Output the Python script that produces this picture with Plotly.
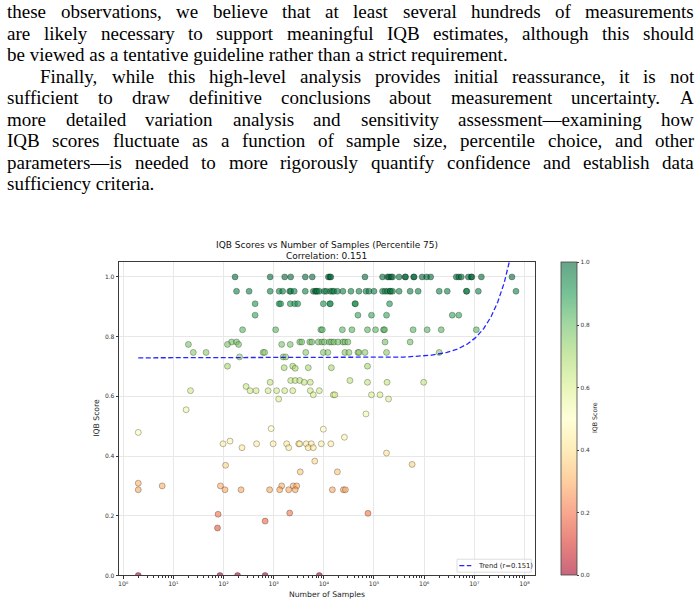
import numpy as np
import plotly.graph_objects as go

# ------------------------------------------------------------------ data
# number of samples (x, log scale) and IQB score (y, also colour)
num_samples = [
    # score 1.000
    170, 851, 1660, 2188, 4266, 5888, 12300, 13180, 13800, 66070,
    147900, 186200, 199500, 218800, 234400, 316200, 416900, 426600, 616600, 631000,
    912000, 1122000, 1349000, 4365000, 4898000, 5495000, 7586000, 8710000, 8913000, 13800000,
    56230000,
    # score 0.952
    182, 324, 851, 1288, 1514, 2089, 2188, 2570, 4266, 6166,
    6761, 7079, 7413, 8128, 10230, 11220, 13490, 14790, 15850, 18620,
    23990, 34670, 50120, 69180, 79430, 100000, 147900, 166000, 186200, 208900,
    213800, 234400, 316200, 524800, 758600, 1995000, 2884000, 6918000, 7079000, 12020000,
    67610000,
    # score 0.910
    427, 1288, 1380, 2138, 2630, 3020, 9772, 13180, 13490, 41690, 42660, 204200,
    # score 0.872
    427, 47860, 89130, 177800, 3631000, 4898000,
    # score 0.823
    240, 1096, 8710, 9333, 23440, 36310, 74130, 107200, 154900, 162200, 602600, 1148000, 2188000, 10960000,
    # score 0.782
    145, 182, 3311, 3631, 5248, 5754, 7762, 9120, 10230, 12880, 14130, 15850, 19050, 23990, 26300, 30200, 166000, 524800,
    # score 0.774
    20, 120, 200, 1445, 2138,
    # score 0.747
    25, 45, 617, 661, 4365, 9772, 12020, 26300, 31620, 47860, 50120, 66070, 177800, 1995000,
    # score 0.732
    209, 1549, 1738,
    # scores 0.70 .. 0.63
    120, 2399, 74130, 1622, 2692, 4898, 14130,
    2188, 2692, 3311, 33110,
    851, 4074, 5370, 74130, 182000, 977200,
    282,
    # score 0.619
    22, 339, 447, 776, 1148, 1660, 2399, 5370, 8128,
    # score 0.605
    6166, 15490, 16600, 89130, 131800,
    # scores 0.591 .. 0.450
    1259, 195000, 18, 69180, 891, 9772, 2, 25700, 135,
    # score 0.441
    98, 457, 977, 1820, 3162, 3311, 4467, 5623, 8913, 13800,
    # score 0.428
    234, 1995, 4898, 6166,
    # scores 0.410 .. 0.309
    177800, 6607, 575400, 110, 3388, 18620, 2,
    # score 0.300
    6, 87, 1445, 2455, 2884,
    # score 0.287
    2, 107, 224, 832, 1318, 1995, 2692, 14790, 24550, 26920,
    # scores 0.209 .. 0.159
    2089, 75860, 78, 676, 76,
    # score 0.000
    2, 85, 191, 676, 8128,
]

iqb_scores = [
    # score 1.000 (31)
    1.0, 1.0, 1.0, 1.0, 1.0, 1.0, 1.0, 1.0, 1.0, 1.0,
    1.0, 1.0, 1.0, 1.0, 1.0, 1.0, 1.0, 1.0, 1.0, 1.0,
    1.0, 1.0, 1.0, 1.0, 1.0, 1.0, 1.0, 1.0, 1.0, 1.0,
    1.0,
    # score 0.952 (41)
    0.952, 0.952, 0.952, 0.952, 0.952, 0.952, 0.952, 0.952, 0.952, 0.952,
    0.952, 0.952, 0.952, 0.952, 0.952, 0.952, 0.952, 0.952, 0.952, 0.952,
    0.952, 0.952, 0.952, 0.952, 0.952, 0.952, 0.952, 0.952, 0.952, 0.952,
    0.952, 0.952, 0.952, 0.952, 0.952, 0.952, 0.952, 0.952, 0.952, 0.952,
    0.952,
    # score 0.910 (12)
    0.910, 0.910, 0.910, 0.910, 0.910, 0.910, 0.910, 0.910, 0.910, 0.910, 0.910, 0.910,
    # score 0.872 (6)
    0.872, 0.872, 0.872, 0.872, 0.872, 0.872,
    # score 0.823 (14)
    0.823, 0.823, 0.823, 0.823, 0.823, 0.823, 0.823, 0.823, 0.823, 0.823, 0.823, 0.823, 0.823, 0.823,
    # score 0.782 (18)
    0.782, 0.782, 0.782, 0.782, 0.782, 0.782, 0.782, 0.782, 0.782, 0.782, 0.782, 0.782, 0.782, 0.782, 0.782, 0.782, 0.782, 0.782,
    # score 0.774 (5)
    0.774, 0.774, 0.774, 0.774, 0.774,
    # score 0.747 (14)
    0.747, 0.747, 0.747, 0.747, 0.747, 0.747, 0.747, 0.747, 0.747, 0.747, 0.747, 0.747, 0.747, 0.747,
    # score 0.732 (3)
    0.732, 0.732, 0.732,
    # scores 0.70 .. 0.63
    0.701, 0.701, 0.701, 0.696, 0.694, 0.696, 0.696,
    0.653, 0.653, 0.653, 0.653,
    0.647, 0.647, 0.647, 0.647, 0.647, 0.647,
    0.633,
    # score 0.619 (9)
    0.619, 0.619, 0.619, 0.619, 0.619, 0.619, 0.619, 0.619, 0.619,
    # score 0.605 (5)
    0.605, 0.605, 0.605, 0.605, 0.605,
    # scores 0.591 .. 0.450
    0.591, 0.591, 0.555, 0.541, 0.492, 0.490, 0.479, 0.463, 0.450,
    # score 0.441 (10)
    0.441, 0.441, 0.441, 0.441, 0.441, 0.441, 0.441, 0.441, 0.441, 0.441,
    # score 0.428 (4)
    0.428, 0.428, 0.428, 0.428,
    # scores 0.410 .. 0.309
    0.410, 0.383, 0.372, 0.369, 0.347, 0.347, 0.309,
    # score 0.300 (5)
    0.300, 0.300, 0.300, 0.300, 0.300,
    # score 0.287 (10)
    0.287, 0.287, 0.287, 0.287, 0.287, 0.287, 0.287, 0.287, 0.287, 0.287,
    # scores 0.209 .. 0.159
    0.209, 0.208, 0.205, 0.182, 0.159,
    # score 0.000 (5)
    0.0, 0.0, 0.0, 0.0, 0.0,
]
assert len(num_samples) == len(iqb_scores)

correlation = 0.151
trend_intercept = 0.729
trend_slope = 6.4e-9

x_tick_values = [1, 10, 100, 1000, 10000, 100000, 1000000, 10000000, 100000000]
x_tick_labels = ["10\u2070", "10\u00b9", "10\u00b2", "10\u00b3", "10\u2074",
                 "10\u2075", "10\u2076", "10\u2077", "10\u2078"]
y_tick_values = [0.0, 0.2, 0.4, 0.6, 0.8, 1.0]
cbar_tick_values = [0.0, 0.2, 0.4, 0.6, 0.8, 1.0]

title_line1 = "IQB Scores vs Number of Samples (Percentile 75)"
title_line2 = "Correlation: 0.151"
x_label = "Number of Samples"
y_label = "IQB Score"
cbar_label = "IQB Score"
legend_label = "Trend (r=0.151)"

body_lines = [
    "these observations, we believe that at least several hundreds of measurements",
    "are likely necessary to support meaningful IQB estimates, although this should",
    "be viewed as a tentative guideline rather than a strict requirement.",
    "Finally, while this high-level analysis provides initial reassurance, it is not",
    "sufficient to draw definitive conclusions about measurement uncertainty. A",
    "more detailed variation analysis and sensitivity assessment\u2014examining how",
    "IQB scores fluctuate as a function of sample size, percentile choice, and other",
    "parameters\u2014is needed to more rigorously quantify confidence and establish data",
    "sufficiency criteria.",
]
body_justified = [True, True, False, True, True, True, True, True, False]
body_indent = [False, False, False, True, False, False, False, False, False]

# ------------------------------------------------------------------ styling
W, H = 699, 608
PX_L, PX_R, PX_T, PX_B = 118.3, 534.3, 263.3, 578.3


def px(x):
    return x / W


def py(y):
    return 1 - y / H


# matplotlib RdYlGn with alpha 0.6 over white
rdylgn = ["#a50026", "#d73027", "#f46d43", "#fdae61", "#fee08b", "#ffffbf",
          "#d9ef8b", "#a6d96a", "#66bd63", "#1a9850", "#006837"]


def rgba(h, a):
    h = h.lstrip("#")
    return "rgba(%d,%d,%d,%.2f)" % (int(h[0:2], 16), int(h[2:4], 16), int(h[4:6], 16), a)


colorscale = [[i / 10, rgba(c, 0.6)] for i, c in enumerate(rdylgn)]

fig = go.Figure()

fig.add_trace(go.Scatter(
    x=num_samples, y=iqb_scores, mode="markers", showlegend=False, hoverinfo="skip",
    marker=dict(
        size=6, color=iqb_scores, cmin=0, cmax=1, colorscale=colorscale,
        line=dict(color="rgba(0,0,0,0.45)", width=0.6),
        showscale=True,
        colorbar=dict(
            x=px(561), xanchor="left", xpad=0, ypad=0,
            y=py(PX_B), yanchor="bottom", len=(PX_B - PX_T) / H, lenmode="fraction",
            thickness=16, thicknessmode="pixels",
            outlinewidth=0.8, outlinecolor="#444",
            ticks="outside", ticklen=2.5, tickwidth=0.6, tickcolor="#444",
            tickvals=cbar_tick_values, tickformat=".1f",
            tickfont=dict(size=5.8, color="#333", family="DejaVu Sans"),
        ),
    ),
))

tx = np.logspace(np.log10(min(num_samples)), np.log10(max(num_samples)), 400)
ty = trend_intercept + trend_slope * tx
fig.add_trace(go.Scatter(
    x=tx, y=ty, mode="lines", showlegend=False, hoverinfo="skip",
    line=dict(color="rgba(0,0,255,0.85)", width=1.3, dash="5px,2.5px"),
))

minor_vals = [m * d for d in x_tick_values[:-1] for m in range(2, 10)]

fig.update_layout(
    width=W, height=H, margin=dict(l=0, r=0, t=0, b=0),
    paper_bgcolor="white", plot_bgcolor="white",
    font=dict(family="DejaVu Sans", color="#222"),
    xaxis=dict(
        type="log", domain=[px(PX_L), px(PX_R)], range=[-0.08, 8.2],
        tickvals=x_tick_values, ticktext=x_tick_labels,
        ticks="outside", ticklen=2.6, tickwidth=0.6, tickcolor="#333",
        tickfont=dict(size=6.2, color="#333"),
        showline=True, mirror=True, linecolor="#3a3a3a", linewidth=0.8,
        showgrid=True, gridcolor="#e8e8e8", gridwidth=0.6, zeroline=False,
        minor=dict(tickvals=minor_vals, ticks="outside", ticklen=1.5, tickwidth=0.5,
                   tickcolor="#333", showgrid=False),
    ),
    yaxis=dict(
        domain=[py(PX_B), py(PX_T)], range=[0, 1.05],
        tickvals=y_tick_values, tickformat=".1f",
        ticks="outside", ticklen=2.6, tickwidth=0.6, tickcolor="#333",
        tickfont=dict(size=6.0, color="#333"),
        showline=True, mirror=True, linecolor="#3a3a3a", linewidth=0.8,
        showgrid=True, gridcolor="#e8e8e8", gridwidth=0.6, zeroline=False,
    ),
)

ann = []
# chart title
ann.append(dict(text=title_line1, x=px(326), y=py(246), xref="paper", yref="paper",
                showarrow=False, xanchor="center", yanchor="middle",
                font=dict(size=9, color="#111")))
ann.append(dict(text=title_line2, x=px(326), y=py(257), xref="paper", yref="paper",
                showarrow=False, xanchor="center", yanchor="middle",
                font=dict(size=9, color="#111")))
# axis labels
ann.append(dict(text=x_label, x=px(326), y=py(597), xref="paper", yref="paper",
                showarrow=False, xanchor="center", yanchor="middle",
                font=dict(size=7.7, color="#222")))
ann.append(dict(text=y_label, x=px(96), y=py(420), xref="paper", yref="paper",
                showarrow=False, xanchor="center", yanchor="middle", textangle=-90,
                font=dict(size=7.7, color="#222")))
ann.append(dict(text=cbar_label, x=px(595), y=py(420), xref="paper", yref="paper",
                showarrow=False, xanchor="center", yanchor="middle", textangle=-90,
                font=dict(size=6.3, color="#222")))
# legend text
ann.append(dict(text=legend_label, x=px(476), y=py(568.5), xref="paper", yref="paper",
                showarrow=False, xanchor="left", yanchor="middle",
                font=dict(size=6.8, color="#222")))

# body text (justified, Times metrics -> Liberation Serif)
TW = {" ": 250, ",": 250, ".": 250, "-": 333, "\u2014": 1000,
      "A": 722, "B": 667, "F": 556, "I": 333, "Q": 722,
      "a": 444, "b": 500, "c": 444, "d": 500, "e": 444, "f": 333, "g": 500, "h": 500,
      "i": 278, "j": 278, "k": 500, "l": 278, "m": 778, "n": 500, "o": 500, "p": 500,
      "q": 500, "r": 333, "s": 389, "t": 278, "u": 500, "v": 500, "w": 722, "x": 500,
      "y": 500, "z": 444}
FS = 19
LEFT, RIGHT, INDENT = 5, 693, 38


def tw(s):
    return sum(TW.get(ch, 500) for ch in s) / 1000 * FS


for i, line in enumerate(body_lines):
    yc = 12 + 21.6 * i
    x0 = INDENT if body_indent[i] else LEFT
    if body_justified[i]:
        words = line.split(" ")
        widths = [tw(w) for w in words]
        gap = (RIGHT - x0 - sum(widths)) / (len(words) - 1)
        x = x0
        for w, wd in zip(words, widths):
            ann.append(dict(text=w, x=px(x - 1), y=py(yc), xref="paper", yref="paper",
                            showarrow=False, xanchor="left", yanchor="middle",
                            font=dict(size=FS, family="Liberation Serif", color="#000")))
            x += wd + gap
    else:
        ann.append(dict(text=line, x=px(x0 - 1), y=py(yc), xref="paper", yref="paper",
                        showarrow=False, xanchor="left", yanchor="middle",
                        font=dict(size=FS, family="Liberation Serif", color="#000")))

fig.update_layout(annotations=ann)

# legend box (decoration)
fig.add_shape(type="rect", xref="paper", yref="paper",
              x0=px(456.7), x1=px(531), y0=py(575), y1=py(562),
              line=dict(color="#d4d4d4", width=0.8), fillcolor="rgba(255,255,255,0.8)")
fig.add_shape(type="line", xref="paper", yref="paper",
              x0=px(459), x1=px(471), y0=py(568.5), y1=py(568.5),
              line=dict(color="rgba(0,0,255,0.85)", width=1.3, dash="5px,2.5px"))

fig.write_html("out.html")
